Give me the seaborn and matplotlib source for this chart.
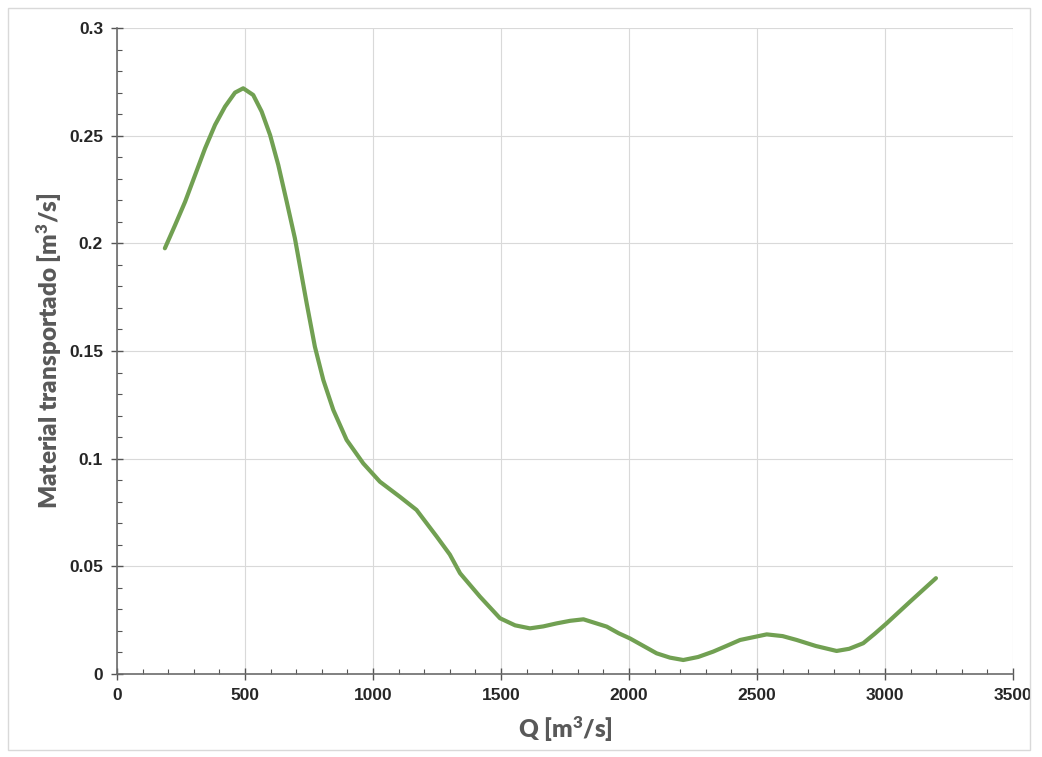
import pandas as pd
import seaborn as sns
import matplotlib.pyplot as plt
from matplotlib.ticker import MultipleLocator
from matplotlib.patches import Rectangle

# valores
caudal = [187, 227, 266, 305, 344, 383, 422, 461, 493, 532, 565, 598, 630, 663,
          695, 741, 773, 806, 845, 897, 962, 1027, 1105, 1170, 1249, 1300, 1340,
          1418, 1496, 1555, 1613, 1665, 1717, 1770, 1822, 1913, 1960, 2004, 2108,
          2160, 2212, 2270, 2329, 2380, 2434, 2538, 2600, 2655, 2730, 2811, 2860,
          2915, 2960, 3006, 3098, 3199]
material = [0.1977, 0.2085, 0.2193, 0.2317, 0.2441, 0.255, 0.2635, 0.27, 0.272,
            0.2689, 0.2612, 0.2503, 0.2364, 0.2193, 0.2023, 0.1721, 0.152, 0.1365,
            0.1226, 0.1087, 0.0978, 0.0893, 0.0823, 0.0762, 0.0638, 0.0555, 0.0468,
            0.0359, 0.0259, 0.0226, 0.0212, 0.0221, 0.0235, 0.0247, 0.0254, 0.022,
            0.0189, 0.0165, 0.0096, 0.0076, 0.0065, 0.0079, 0.0104, 0.013, 0.0158,
            0.0184, 0.0176, 0.0158, 0.013, 0.0107, 0.0117, 0.0143, 0.0187, 0.0235,
            0.0336, 0.0445]

df = pd.DataFrame({'Q': caudal, 'M': material})

sns.set_style('white')
plt.rcParams['font.family'] = ['Liberation Sans', 'DejaVu Sans']
plt.rcParams['mathtext.default'] = 'regular'

fig = plt.figure(figsize=(10.42, 7.57), dpi=100)
ax = fig.add_axes([117 / 1042, 1 - 674 / 757, 896 / 1042, 646 / 757])

sns.lineplot(data=df, x='Q', y='M', ax=ax, color='#71a052', linewidth=3.0,
             solid_capstyle='round', solid_joinstyle='round')

ax.set_xlim(0, 3500)
ax.set_ylim(0, 0.3)
ax.xaxis.set_major_locator(MultipleLocator(500))
ax.xaxis.set_minor_locator(MultipleLocator(100))
ax.yaxis.set_minor_locator(MultipleLocator(0.01))
ax.set_yticks([0, 0.05, 0.1, 0.15, 0.2, 0.25, 0.3])
ax.set_yticklabels(['0', '0.05', '0.1', '0.15', '0.2', '0.25', '0.3'])

ax.grid(True, which='major', color='#d9d9d9', linewidth=0.8)
ax.set_axisbelow(True)
for s in ['top', 'right']:
    ax.spines[s].set_visible(False)
for s in ['left', 'bottom']:
    ax.spines[s].set_color('#6b6b6b')
    ax.spines[s].set_linewidth(1.2)

ax.tick_params(axis='both', which='major', direction='inout', length=8, width=1,
               color='#555555', labelsize=12.5, pad=6)
ax.tick_params(axis='both', which='minor', direction='in', length=3.5, width=0.8,
               color='#555555')
ax.tick_params(axis='both', which='both', bottom=True, left=True)
for lab in ax.get_xticklabels() + ax.get_yticklabels():
    lab.set_fontweight('bold')

ax.set_xlabel('Q [m$^3$/s]', fontsize=17.5, fontweight='heavy', color='#595959',
              family=['Lato', 'DejaVu Sans'], labelpad=8)
ax.set_ylabel('Material transportado [m$^3$/s]', fontsize=17.5, fontweight='heavy',
              color='#595959', family=['Lato', 'DejaVu Sans'], labelpad=4)

fig.patches.append(Rectangle((8 / 1042, 1 - 750 / 757), 1022 / 1042, 742 / 757,
                             transform=fig.transFigure, fill=False,
                             edgecolor='#d9d9d9', linewidth=1))

fig.savefig('out.png', dpi=100)
